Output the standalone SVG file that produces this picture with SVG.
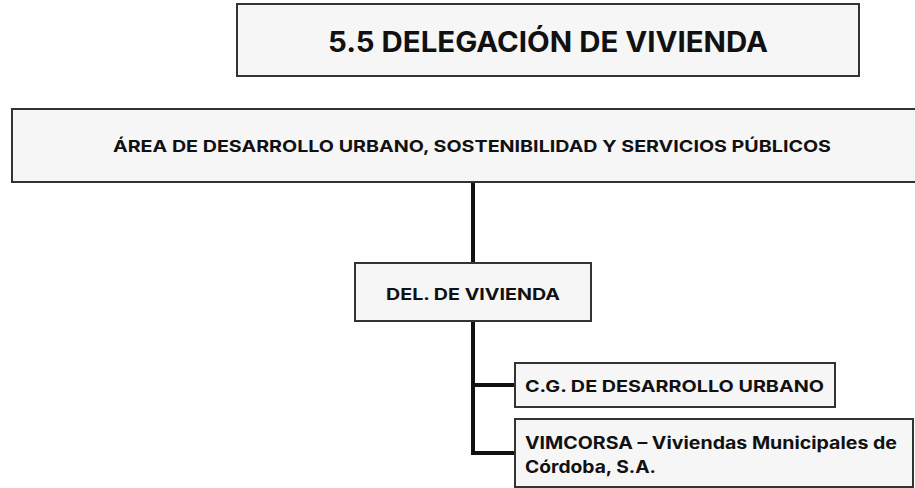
<svg xmlns="http://www.w3.org/2000/svg" width="915" height="488" viewBox="0 0 915 488">
<style>
.box{fill:#f6f6f6;stroke:#333;stroke-width:2}
.t{font-family:Inter,"Open Sans","DejaVu Sans",sans-serif;font-weight:700;fill:#111}
.c{fill:none;stroke:#111;stroke-width:4}
</style>
<rect width="915" height="488" fill="#fff"/>
<g id="connectors">
<line class="c" x1="473" y1="182" x2="473" y2="263"/>
<polyline class="c" points="473,321 473,453 515,453"/>
<line class="c" x1="473" y1="385" x2="515" y2="385"/>
</g>
<g id="title">
<rect class="box" x="237" y="4" width="622" height="72" stroke-width="3"/>
<text class="t" x="548" y="52" font-size="28" text-anchor="middle" textLength="440" lengthAdjust="spacingAndGlyphs">5.5 DELEGACIÓN DE VIVIENDA</text>
</g>
<g id="area">
<rect class="box" x="12" y="109" width="910" height="73"/>
<text class="t" x="472" y="152" font-size="16" text-anchor="middle" textLength="718" lengthAdjust="spacingAndGlyphs">ÁREA DE DESARROLLO URBANO, SOSTENIBILIDAD Y SERVICIOS PÚBLICOS</text>
</g>
<g id="del">
<rect class="box" x="355" y="263" width="236" height="58"/>
<text class="t" x="473" y="300" font-size="16" text-anchor="middle" textLength="174" lengthAdjust="spacingAndGlyphs">DEL. DE VIVIENDA</text>
</g>
<g id="cg">
<rect class="box" x="515" y="363" width="320" height="44"/>
<text class="t" x="525" y="392" font-size="16" textLength="299" lengthAdjust="spacingAndGlyphs">C.G. DE DESARROLLO URBANO</text>
</g>
<g id="vimcorsa">
<rect class="box" x="515" y="419" width="398" height="68"/>
<text class="t" x="525" y="449" font-size="17" textLength="372" lengthAdjust="spacingAndGlyphs">VIMCORSA – Viviendas Municipales de</text>
<text class="t" x="525" y="473" font-size="17" textLength="131" lengthAdjust="spacingAndGlyphs">Córdoba, S.A.</text>
</g>
</svg>
